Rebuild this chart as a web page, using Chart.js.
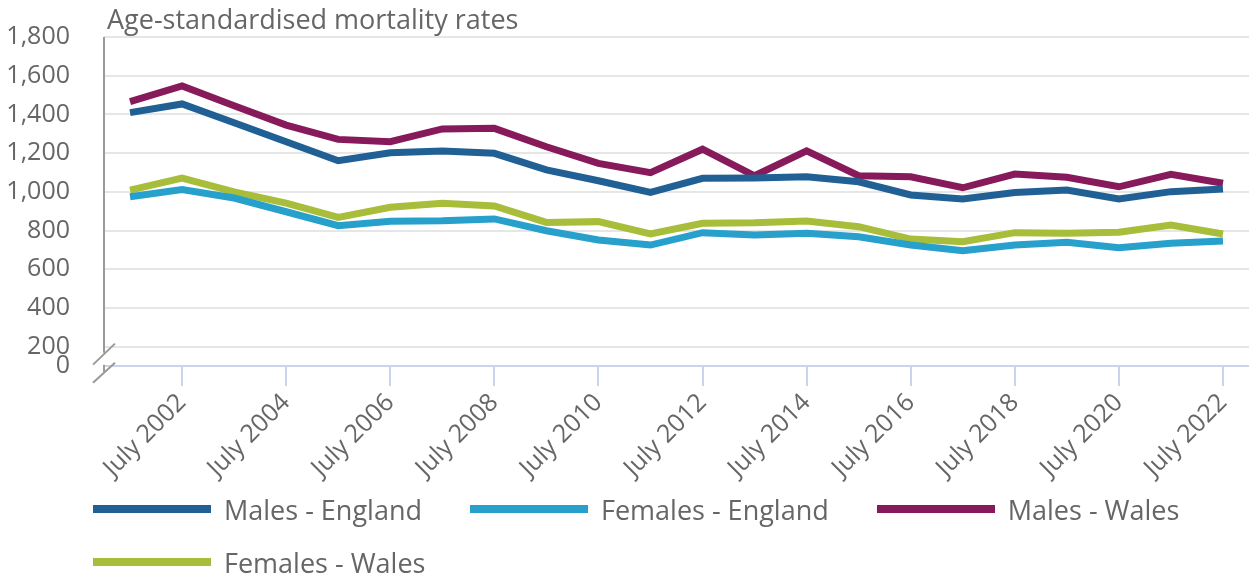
<!DOCTYPE html>
<html>
<head>
<meta charset="utf-8">
<script src="https://cdn.jsdelivr.net/npm/chart.js@4/dist/chart.umd.min.js"></script>
<style>
  body { margin: 0; background: #fff; }
  #wrap { position: relative; width: 1249px; height: 576px; }
  #legend { position: absolute; left: 93px; top: 494px; width: 1150px; display: flex; flex-wrap: wrap;
            column-gap: 48px; row-gap: 23px; font-family: 'Open Sans'; font-size: 27px; color: #666; }
  .item { display: flex; align-items: center; height: 30px; white-space: nowrap; }
  .swatch { width: 118px; height: 8px; margin-right: 13px; }
</style>
</head>
<body>
<div id="wrap">
  <canvas id="chart"></canvas>
  <div id="legend"></div>
</div>
<script>
var title = 'Age-standardised mortality rates';

var years = ['July 2001', 'July 2002', 'July 2003', 'July 2004', 'July 2005', 'July 2006', 'July 2007',
  'July 2008', 'July 2009', 'July 2010', 'July 2011', 'July 2012', 'July 2013', 'July 2014', 'July 2015',
  'July 2016', 'July 2017', 'July 2018', 'July 2019', 'July 2020', 'July 2021', 'July 2022'];

var malesEngland = [1409, 1454, 1357, 1259, 1161, 1202, 1211, 1199, 1113, 1057, 997, 1070, 1072, 1078, 1052, 984, 963, 997, 1009, 963, 1001, 1015];
var femalesEngland = [975, 1012, 968, 897, 825, 848, 851, 860, 799, 751, 725, 789, 777, 786, 768, 725, 696, 725, 739, 711, 734, 746];
var malesWales = [1466, 1547, 1445, 1345, 1271, 1259, 1325, 1328, 1233, 1147, 1099, 1220, 1083, 1212, 1083, 1078, 1021, 1092, 1075, 1026, 1090, 1044];
var femalesWales = [1009, 1071, 1000, 942, 868, 920, 941, 927, 842, 846, 782, 837, 840, 849, 820, 756, 742, 789, 786, 791, 828, 782];

var seriesNames = ['Males - England', 'Females - England', 'Males - Wales', 'Females - Wales'];
var colours = ['#206095', '#27a0cc', '#871a5b', '#a8bd3a'];

// 100 sits on the broken baseline and is shown as "0"
var yTicks = [100, 200, 400, 600, 800, 1000, 1200, 1400, 1600, 1800];

var font = 'Open Sans';
var textColour = '#666';

var series = [malesEngland, femalesEngland, malesWales, femalesWales];
var datasets = series.map(function(d, i) {
  return {
    label: seriesNames[i],
    data: d,
    borderColor: colours[i],
    backgroundColor: colours[i],
    borderWidth: 7,
    pointRadius: 0,
    tension: 0
  };
});

// axis line with break marks, plus the title
var axisBreak = {
  id: 'axisBreak',
  afterDraw: function(chart) {
    var ctx = chart.ctx;
    var area = chart.chartArea;
    var x = area.left;
    var y200 = chart.scales.y.getPixelForValue(200);
    ctx.save();
    ctx.strokeStyle = '#9a9a9a';
    ctx.lineWidth = 2;
    ctx.beginPath();
    ctx.moveTo(x, area.top);
    ctx.lineTo(x, y200 + 6);
    ctx.moveTo(x, y200 + 18);
    ctx.lineTo(x, y200 + 25);
    ctx.moveTo(x - 11, y200 + 18);
    ctx.lineTo(x + 11, y200 - 3);
    ctx.moveTo(x - 11, y200 + 36);
    ctx.lineTo(x + 11, y200 + 16);
    ctx.stroke();
    ctx.fillStyle = textColour;
    ctx.font = '27px "' + font + '"';
    ctx.textBaseline = 'alphabetic';
    ctx.fillText(title, x + 3, 29);
    ctx.restore();
  }
};

var chart = new Chart('chart', {
  type: 'line',
  data: { labels: years, datasets: datasets },
  plugins: [axisBreak],
  options: {
    responsive: true,
    maintainAspectRatio: false,
    animation: false,
    layout: { padding: { top: 37, left: 0, right: 0, bottom: 0 } },
    plugins: {
      legend: { display: false },
      tooltip: { enabled: false }
    },
    scales: {
      x: {
        offset: true,
        grid: {
          offset: false,
          drawOnChartArea: false,
          tickLength: 20,
          lineWidth: 2,
          color: function(c) { return c.index % 2 ? '#c8d5ea' : 'rgba(0,0,0,0)'; }
        },
        border: { color: '#c8d5ea', width: 2 },
        ticks: {
          autoSkip: false,
          minRotation: 45,
          maxRotation: 45,
          padding: 2,
          color: textColour,
          font: { family: font, size: 25 },
          callback: function(v, i) { return i % 2 ? this.getLabelForValue(v) : ''; }
        },
        afterFit: function(s) {
          s.height = 210;
          s.paddingLeft = 0;
          s.paddingRight = 0;
        }
      },
      y: {
        min: 100,
        max: 1800,
        afterBuildTicks: function(s) {
          s.ticks = yTicks.map(function(v) { return { value: v }; });
        },
        grid: {
          drawTicks: false,
          lineWidth: 2,
          color: function(c) { return c.tick && c.tick.value === 100 ? 'rgba(0,0,0,0)' : '#e6e6e6'; }
        },
        border: { display: false },
        ticks: {
          padding: 34,
          color: textColour,
          font: { family: font, size: 25 },
          callback: function(v) { return v === 100 ? '0' : v.toLocaleString('en-GB'); }
        },
        afterFit: function(s) {
          s.width = 104;
          s.paddingTop = 0;
          s.paddingBottom = 0;
        }
      }
    }
  }
});

var legend = document.getElementById('legend');
seriesNames.forEach(function(name, i) {
  var item = document.createElement('div');
  item.className = 'item';
  var sw = document.createElement('span');
  sw.className = 'swatch';
  sw.style.background = colours[i];
  var tx = document.createElement('span');
  tx.textContent = name;
  item.appendChild(sw);
  item.appendChild(tx);
  legend.appendChild(item);
});
</script>
</body>
</html>
